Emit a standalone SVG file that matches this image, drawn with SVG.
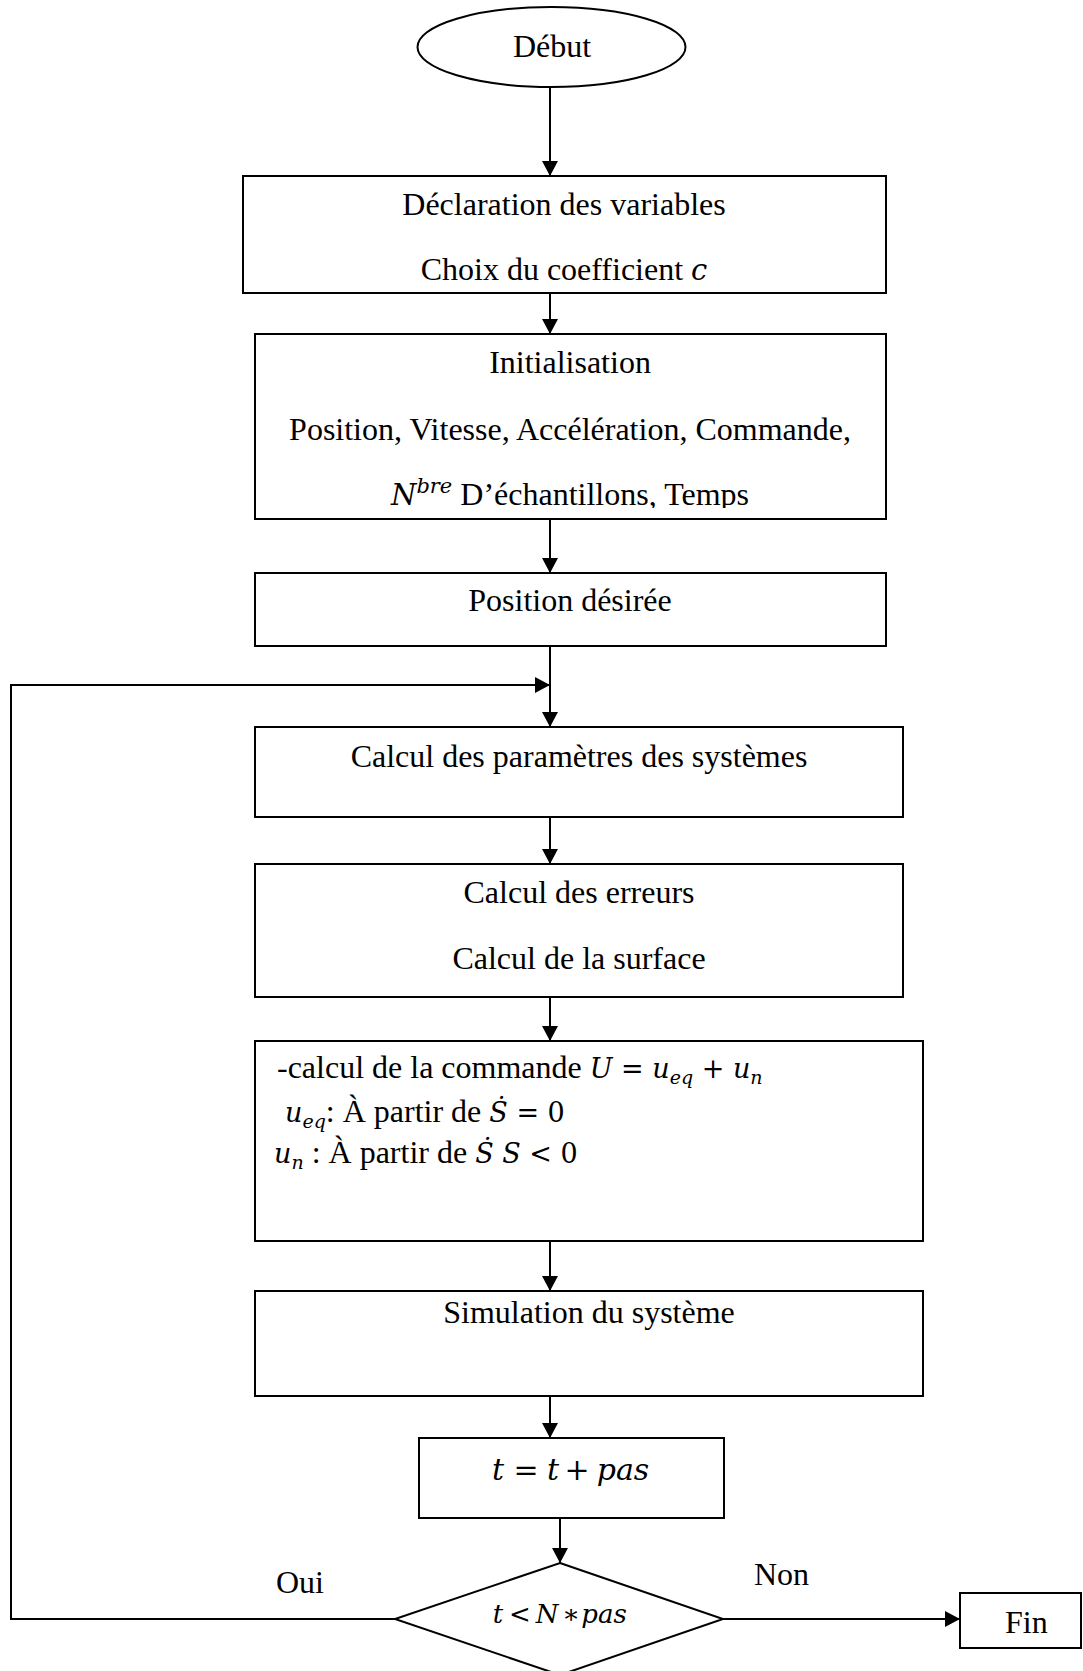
<svg xmlns="http://www.w3.org/2000/svg" width="1083" height="1671" viewBox="0 0 1083 1671">
  <style>
    .box { fill: #ffffff; stroke: #000000; stroke-width: 2; }
    .wire { fill: none; stroke: #000000; stroke-width: 2; }
    .t { font-family: "Liberation Serif", "Times New Roman", serif; font-size: 32px; fill: #000000; }
    .tc { text-anchor: middle; }
    .m { font-family: "DejaVu Serif", "Liberation Serif", serif; font-style: italic; }
    .up { font-family: "DejaVu Serif", "Liberation Serif", serif; font-style: normal; }
    .eq1 { font-size: 30px; }
    .eq2 { font-size: 26px; }
  </style>
  <defs>
    <marker id="arrow" viewBox="0 0 15 16" refX="15" refY="8" markerWidth="15" markerHeight="16" markerUnits="userSpaceOnUse" orient="auto">
      <path d="M0,0 L15,8 L0,16 z" fill="#000000"/>
    </marker>
    <clipPath id="clip-init">
      <rect x="255" y="334" width="631" height="174"/>
    </clipPath>
  </defs>

  <!-- connectors -->
  <g id="connectors">
    <line class="wire" x1="550" y1="87" x2="550" y2="176" marker-end="url(#arrow)"/>
    <line class="wire" x1="550" y1="293" x2="550" y2="334" marker-end="url(#arrow)"/>
    <line class="wire" x1="550" y1="519" x2="550" y2="573" marker-end="url(#arrow)"/>
    <line class="wire" x1="550" y1="646" x2="550" y2="727" marker-end="url(#arrow)"/>
    <line class="wire" x1="550" y1="817" x2="550" y2="864" marker-end="url(#arrow)"/>
    <line class="wire" x1="550" y1="997" x2="550" y2="1041" marker-end="url(#arrow)"/>
    <line class="wire" x1="550" y1="1241" x2="550" y2="1291" marker-end="url(#arrow)"/>
    <line class="wire" x1="550" y1="1396" x2="550" y2="1438" marker-end="url(#arrow)"/>
    <line class="wire" x1="560" y1="1518" x2="560" y2="1563" marker-end="url(#arrow)"/>
    <!-- "Oui" branch back to the loop entry -->
    <polyline class="wire" points="395,1619 11,1619 11,685 550,685" marker-end="url(#arrow)"/>
    <!-- "Non" branch to the end -->
    <line class="wire" x1="723" y1="1619" x2="960" y2="1619" marker-end="url(#arrow)"/>
  </g>

  <g id="debut">
    <ellipse class="box" cx="551.5" cy="47" rx="134" ry="40"/>
    <text class="t tc" x="552" y="57">Début</text>
  </g>

  <g id="declaration">
    <rect class="box" x="243" y="176" width="643" height="117"/>
    <text class="t tc" x="564" y="215">Déclaration des variables</text>
    <text class="t tc" x="564" y="280">Choix du coefficient <tspan class="m" font-size="29">c</tspan></text>
  </g>

  <g id="initialisation">
    <rect class="box" x="255" y="334" width="631" height="185"/>
    <g clip-path="url(#clip-init)">
      <text class="t tc" x="570" y="373">Initialisation</text>
      <text class="t tc" x="570" y="440">Position, Vitesse, Accélération, Commande,</text>
      <text class="t tc" x="570" y="505"><tspan class="m" font-size="29">N</tspan><tspan class="m" font-size="21" dy="-12">bre</tspan><tspan dy="12"> D’échantillons, Temps</tspan></text>
    </g>
  </g>

  <g id="position-desiree">
    <rect class="box" x="255" y="573" width="631" height="73"/>
    <text class="t tc" x="570" y="611">Position désirée</text>
  </g>

  <g id="calcul-parametres">
    <rect class="box" x="255" y="727" width="648" height="90"/>
    <text class="t tc" x="579" y="767">Calcul des paramètres des systèmes</text>
  </g>

  <g id="calcul-erreurs">
    <rect class="box" x="255" y="864" width="648" height="133"/>
    <text class="t tc" x="579" y="903">Calcul des erreurs</text>
    <text class="t tc" x="579" y="969">Calcul de la surface</text>
  </g>

  <g id="calcul-commande">
    <rect class="box" x="255" y="1041" width="668" height="200"/>
    <text class="t" x="277" y="1078">-calcul de la commande <tspan class="m" font-size="27">U</tspan><tspan class="up" font-size="27"> = </tspan><tspan class="m" font-size="27">u</tspan><tspan class="m" font-size="19" dy="6">eq</tspan><tspan class="up" font-size="27" dy="-6"> + </tspan><tspan class="m" font-size="27">u</tspan><tspan class="m" font-size="19" dy="6">n</tspan></text>
    <text class="t" x="285" y="1122"><tspan class="m" font-size="27">u</tspan><tspan class="m" font-size="19" dy="6">eq</tspan><tspan dy="-6">: À partir de </tspan><tspan class="m" font-size="27">Ṡ</tspan><tspan class="up" font-size="27"> = 0</tspan></text>
    <text class="t" x="274" y="1163"><tspan class="m" font-size="27">u</tspan><tspan class="m" font-size="19" dy="6">n</tspan><tspan dy="-6"> : À partir de </tspan><tspan class="m" font-size="27">Ṡ S</tspan><tspan class="up" font-size="27"> &lt; 0</tspan></text>
  </g>

  <g id="simulation">
    <rect class="box" x="255" y="1291" width="668" height="105"/>
    <text class="t tc" x="589" y="1323">Simulation du système</text>
  </g>

  <g id="increment">
    <rect class="box" x="419" y="1438" width="305" height="80"/>
    <text class="t tc eq1" y="1480"><tspan class="m" x="498">t</tspan><tspan class="up" x="526">=</tspan><tspan class="m" x="553">t</tspan><tspan class="up" x="577">+</tspan><tspan class="m" x="623">pas</tspan></text>
  </g>

  <g id="test">
    <polygon class="box" points="560,1563 723,1619 560,1675 395,1619"/>
    <text class="t tc eq2" y="1623"><tspan class="m" x="498">t</tspan><tspan class="up" x="520">&lt;</tspan><tspan class="m" x="547">N</tspan><tspan class="up" x="571">∗</tspan><tspan class="m" x="604">pas</tspan></text>
  </g>

  <g id="labels">
    <text class="t" x="276" y="1593">Oui</text>
    <text class="t" x="754" y="1585">Non</text>
  </g>

  <g id="fin">
    <rect class="box" x="960" y="1593" width="121" height="55"/>
    <text class="t" x="1005" y="1633">Fin</text>
  </g>
</svg>
